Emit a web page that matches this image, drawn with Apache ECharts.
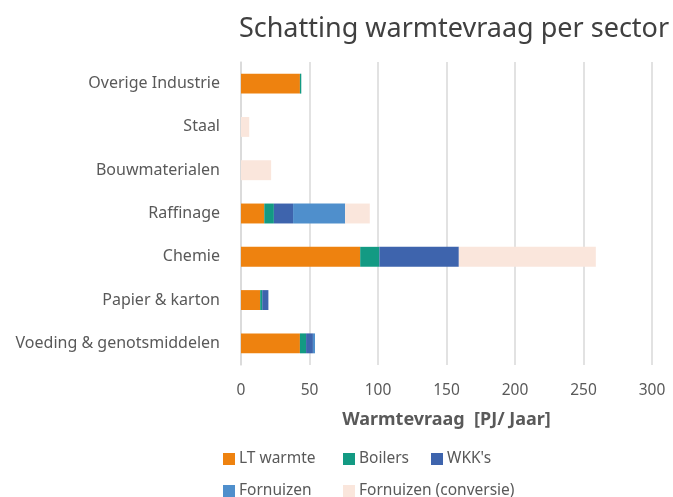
<!DOCTYPE html>
<html>
<head>
<meta charset="utf-8">
<script src="https://cdn.jsdelivr.net/npm/echarts@6/dist/echarts.min.js"></script>
<style>
  html, body { margin: 0; padding: 0; background: #fff; }
  #chart { width: 673px; height: 497px; }
</style>
</head>
<body>
<div id="chart"></div>
<script>
// sectors, bottom to top as the axis draws them
const sectors = ['Voeding & genotsmiddelen', 'Papier & karton', 'Chemie', 'Raffinage', 'Bouwmaterialen', 'Staal', 'Overige Industrie']
const ltWarmte = [43, 14, 87, 17, 0, 0, 43]
const boilers = [4.5, 1.5, 14, 7, 0, 0, 1]
const wkk = [5, 4.5, 58, 14, 0, 0, 0]
const fornuizen = [1.5, 0, 0, 38, 0, 0, 0]
const fornuizenConversie = [0, 0, 100, 18, 22, 6, 0]

const font = '"Noto Sans", "Open Sans", sans-serif'
const grey = '#595959'

let chart = echarts.init(document.getElementById('chart'))

function bar (name, data, color) {
  return {
    name: name,
    type: 'bar',
    stack: 'total',
    barCategoryGap: '54%',
    itemStyle: { color: color },
    data: data
  }
}

// one legend per item so the two rows line up like the original
function legendItem (name, left, top) {
  return {
    left: left,
    top: top,
    itemWidth: 12,
    itemHeight: 12,
    itemGap: 4,
    icon: 'rect',
    textStyle: { fontSize: 15.5, color: grey, padding: [0, 0, 0, -1] },
    data: [name]
  }
}

chart.setOption({
  animation: false,
  textStyle: { fontFamily: font },
  title: {
    text: 'Schatting warmtevraag per sector',
    left: 449,
    textAlign: 'center',
    top: 11,
    textStyle: { fontSize: 27, fontWeight: 'normal', color: '#404040', fontFamily: font }
  },
  grid: { left: 241, right: 21, top: 62, bottom: 132, containLabel: false },
  legend: [
    legendItem('LT warmte', 218, 446),
    legendItem('Boilers', 338, 446),
    legendItem("WKK's", 426, 446),
    legendItem('Fornuizen', 218, 478),
    legendItem('Fornuizen (conversie)', 338, 478)
  ],
  xAxis: {
    type: 'value',
    min: 0,
    max: 300,
    interval: 50,
    name: 'Warmtevraag  [PJ/ Jaar]',
    nameLocation: 'middle',
    nameGap: 46,
    nameTextStyle: { fontSize: 18, fontWeight: 'bold', color: grey },
    axisLine: { show: false },
    axisTick: { show: false },
    axisLabel: { fontSize: 15.5, color: grey, margin: 18 },
    splitLine: { lineStyle: { color: '#d9d9d9', width: 1.5 } }
  },
  yAxis: {
    type: 'category',
    data: sectors,
    axisLine: { show: true, lineStyle: { color: '#d9d9d9', width: 1.5 } },
    axisTick: { show: false },
    axisLabel: { fontSize: 16, color: grey, margin: 21 }
  },
  series: [
    bar('LT warmte', ltWarmte, '#ee820f'),
    bar('Boilers', boilers, '#139a83'),
    bar("WKK's", wkk, '#3e64ad'),
    bar('Fornuizen', fornuizen, '#4f8fcc'),
    bar('Fornuizen (conversie)', fornuizenConversie, '#fae6dc')
  ]
})
</script>
</body>
</html>
